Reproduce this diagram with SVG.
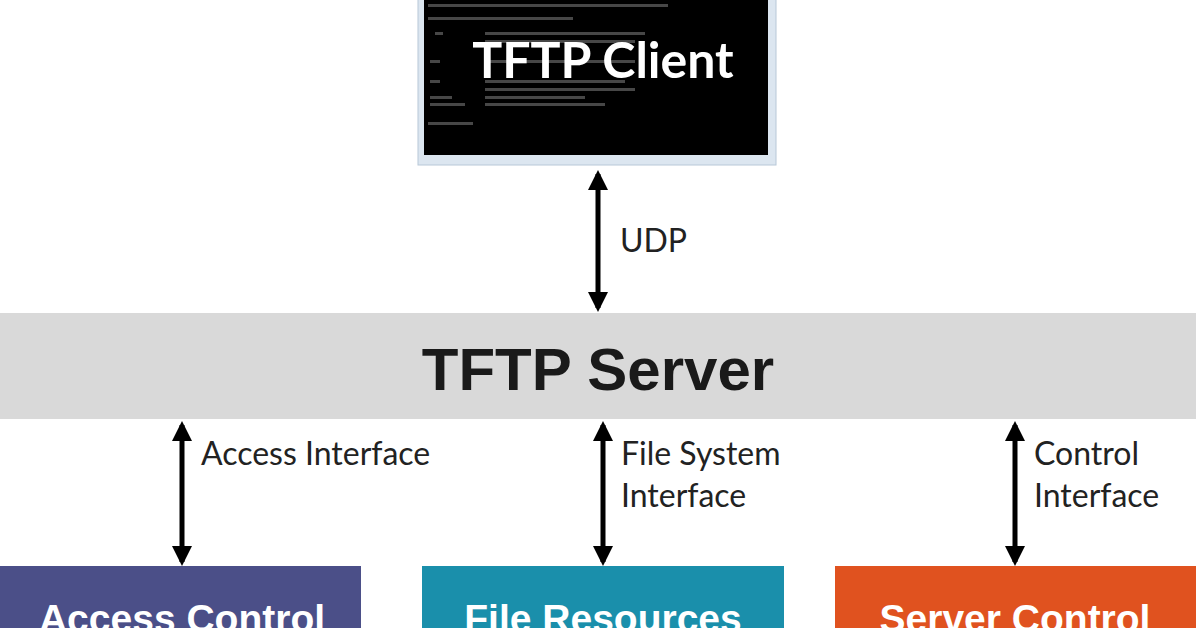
<svg xmlns="http://www.w3.org/2000/svg" width="1196" height="628" viewBox="0 0 1196 628">
<style>
.lbl{font-family:"Lato","Liberation Sans",sans-serif;font-size:32px;fill:#222}
.box{font-family:"Liberation Sans",Arial,sans-serif;font-weight:bold;font-size:39px;fill:#fff;text-anchor:middle}
.conn line{stroke:#000;stroke-width:5;marker-start:url(#a);marker-end:url(#a)}
.tl{fill:#777;opacity:.6}
</style>
<defs><marker id="a" viewBox="0 0 10 10" refX="8" refY="5" markerWidth="4" markerHeight="4" orient="auto-start-reverse"><path d="M0,0L10,5L0,10z" fill="#000"/></marker></defs>
<rect width="1196" height="628" fill="#fff"/>
<g id="client">
<rect x="418" y="-5" width="358" height="170" fill="#dce6f0" stroke="#b8c8d8"/>
<rect x="424" y="-5" width="344" height="160" fill="#000"/>
<rect class="tl" x="428" y="4" width="240" height="3"/>
<rect class="tl" x="428" y="17" width="145" height="3"/>
<rect class="tl" x="435" y="32" width="8" height="3"/><rect class="tl" x="485" y="32" width="160" height="3"/>
<rect class="tl" x="485" y="40" width="150" height="3"/>
<rect class="tl" x="430" y="60" width="10" height="3"/><rect class="tl" x="485" y="60" width="150" height="3"/>
<rect class="tl" x="430" y="80" width="10" height="3"/><rect class="tl" x="485" y="80" width="140" height="3"/>
<rect class="tl" x="485" y="88" width="150" height="3"/>
<rect class="tl" x="430" y="96" width="22" height="3"/><rect class="tl" x="485" y="96" width="100" height="3"/>
<rect class="tl" x="430" y="103" width="35" height="3"/><rect class="tl" x="485" y="103" width="120" height="3"/>
<rect class="tl" x="428" y="122" width="45" height="3"/>
<text x="603" y="78" font-family="Lato,'Liberation Sans',sans-serif" font-weight="bold" font-size="50" fill="#fff" text-anchor="middle">TFTP Client</text>
</g>
<g id="server">
<rect x="0" y="313" width="1196" height="106" fill="#d9d9d9"/>
<text x="598" y="390" font-family="'Liberation Sans',Arial,sans-serif" font-weight="bold" font-size="60" fill="#1a1a1a" text-anchor="middle">TFTP Server</text>
</g>
<g id="access"><rect x="0" y="566" width="361" height="70" fill="#4b4f88"/><text class="box" x="182" y="632">Access Control</text></g>
<g id="files"><rect x="422" y="566" width="362" height="70" fill="#1a8fab"/><text class="box" x="603" y="632">File Resources</text></g>
<g id="control"><rect x="835" y="566" width="361" height="70" fill="#e0521f"/><text class="box" x="1015" y="632">Server Control</text></g>
<g class="conn" id="connectors">
<line x1="598" y1="174" x2="598" y2="308"/>
<line x1="182" y1="425" x2="182" y2="562"/>
<line x1="603" y1="425" x2="603" y2="562"/>
<line x1="1015" y1="425" x2="1015" y2="562"/>
</g>
<text class="lbl" x="620" y="252">UDP</text>
<text class="lbl" x="201" y="465">Access Interface</text>
<text class="lbl" x="621" y="465">File System</text>
<text class="lbl" x="621" y="507">Interface</text>
<text class="lbl" x="1034" y="465">Control</text>
<text class="lbl" x="1034" y="507">Interface</text>
</svg>
